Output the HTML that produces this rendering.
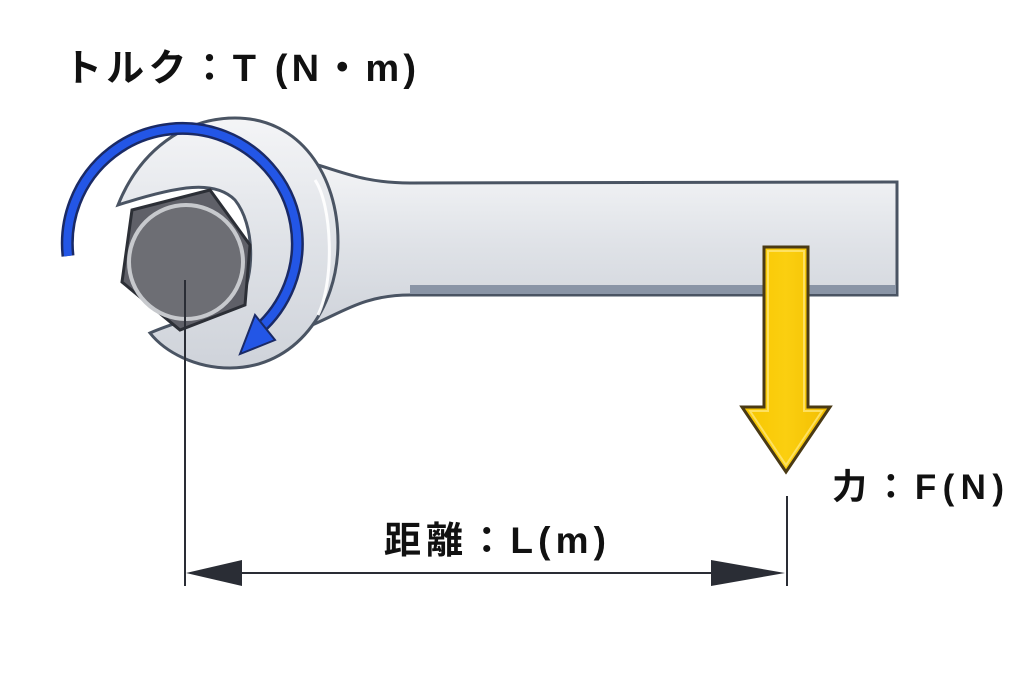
<!DOCTYPE html>
<html><head><meta charset="utf-8"><style>
html,body{margin:0;padding:0;background:#fff;}
svg{display:block;}
text{font-family:"Liberation Sans","Noto Sans CJK JP",sans-serif;font-weight:bold;fill:#111;}
</style></head><body>
<svg width="1024" height="683" viewBox="0 0 1024 683" xmlns="http://www.w3.org/2000/svg">
<defs>
<linearGradient id="hg" x1="0" y1="0" x2="0" y2="1">
<stop offset="0" stop-color="#f4f5f7"/><stop offset="0.5" stop-color="#dfe2e7"/><stop offset="1" stop-color="#cfd3da"/>
</linearGradient>
<linearGradient id="yg" x1="0" y1="0" x2="1" y2="0">
<stop offset="0" stop-color="#f7c600"/><stop offset="0.5" stop-color="#fbcf10"/><stop offset="1" stop-color="#f2bd00"/>
</linearGradient>
</defs>
<!-- handle -->
<path d="M300,160 C340,170 360,183 410,183 L897,182 L897,295 L410,295 C360,295 340,315 300,330 Z" fill="url(#hg)" stroke="#4a5463" stroke-width="3"/>
<rect x="410" y="285" width="486" height="9" fill="#8a95a6"/>
<!-- head -->
<path d="M118,205 C140,150 185,118 235,118 C300,118 338,175 338,242 C338,310 295,368 230,368 C195,368 165,352 150,333 C175,322 205,315 240,300 C255,275 255,225 235,200 C215,180 180,185 118,205 Z" fill="url(#hg)" stroke="#4a5463" stroke-width="3"/>
<path d="M315,180 C332,205 335,280 318,315" fill="none" stroke="#fff" stroke-width="3" opacity="0.9"/>
<!-- nut -->
<polygon points="132,210 210,190 250,245 245,305 180,330 122,282" fill="#5f6068" stroke="#2c2f36" stroke-width="3"/>
<circle cx="186" cy="262" r="57" fill="#6d6e74" stroke="#c7c9cd" stroke-width="4"/>
<!-- blue arrow -->
<path d="M68,256 A115,115 0 1 1 258,330" fill="none" stroke="#1a2a66" stroke-width="13"/>
<path d="M68,256 A115,115 0 1 1 258,330" fill="none" stroke="#2356e6" stroke-width="8"/>
<polygon points="240,354 255,315 275,340" fill="#2356e6" stroke="#1a2a66" stroke-width="2"/>
<!-- yellow arrow -->
<polygon points="764,247 808,247 808,407 830,407 786,472 742,407 764,407" fill="url(#yg)" stroke="#4a3a14" stroke-width="3"/>
<polygon points="768,251 804,251 804,411 822,411 786,465 750,411 768,411" fill="none" stroke="#ffe676" stroke-width="2" opacity="0.8"/>
<!-- dimension -->
<line x1="185" y1="280" x2="185" y2="586" stroke="#2a2d35" stroke-width="2"/>
<line x1="787" y1="496" x2="787" y2="586" stroke="#2a2d35" stroke-width="2"/>
<line x1="240" y1="573" x2="715" y2="573" stroke="#2a2d35" stroke-width="2"/>
<polygon points="186,573 242,560 242,586" fill="#2a2d35"/>
<polygon points="785,573 711,560 711,586" fill="#2a2d35"/>
<!-- labels -->
<text x="64" y="81" font-size="38" textLength="352" lengthAdjust="spacing">トルク：T (N・m)</text>
<text x="384" y="553" font-size="37" textLength="222" lengthAdjust="spacing">距離：L(m)</text>
<text x="832" y="499" font-size="35" textLength="172" lengthAdjust="spacing">力：F(N)</text>
</svg>
</body></html>
